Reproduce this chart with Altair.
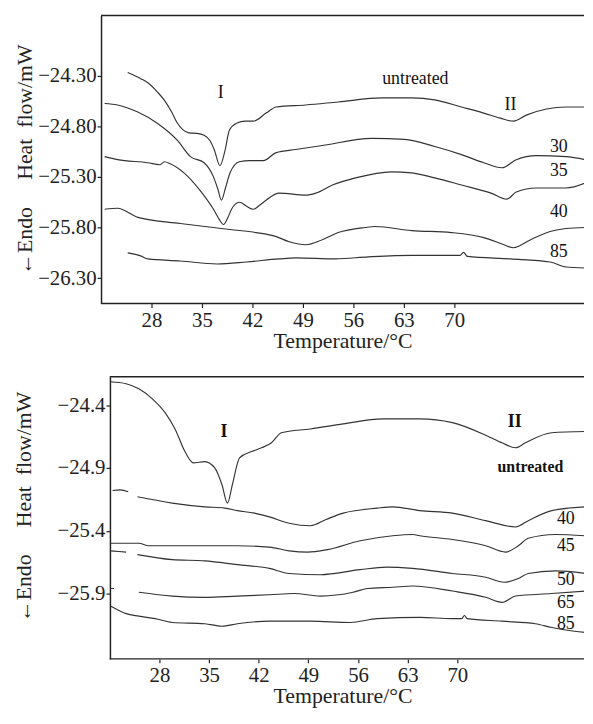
import altair as alt
import pandas as pd

FONT = "Liberation Serif"
INK = "#222222"

# ---------------- top panel data ----------------
TOP_UNT_T = [24.7, 26.5, 27.5, 28.8, 29.8, 30.8, 31.6, 32.3, 33.2, 34.3, 35.3, 36.1, 36.7, 37.5, 38.2, 38.8,
             39.8, 41.0, 42.1, 43.9, 45.3, 49.4, 53.9, 60.0, 64.1, 67.3, 71.0, 74.1, 76.4, 78.2, 80.0, 82.8,
             85.5, 88.2]
TOP_UNT_V = [-24.27, -24.33, -24.37, -24.46, -24.545, -24.66, -24.77, -24.83, -24.865, -24.87, -24.89, -24.94,
             -25.03, -25.19, -25.04, -24.84, -24.77, -24.75, -24.75, -24.67, -24.61, -24.59, -24.56, -24.52,
             -24.52, -24.54, -24.61, -24.67, -24.72, -24.75, -24.69, -24.63, -24.61, -24.61]

TOP_30_T = [21.5, 23.3, 26.1, 28.8, 31.6, 33.4, 35.3, 36.6, 37.2, 37.7, 38.3, 38.9, 40.2, 41.6, 43.5, 45.3,
            48.0, 51.7, 58.6, 63.1, 67.3, 71.0, 74.1, 76.6, 78.6, 81.4, 85.5, 88.2]
TOP_30_V = [-24.575, -24.59, -24.66, -24.77, -24.94, -25.10, -25.16, -25.30, -25.42, -25.53, -25.40, -25.26,
            -25.15, -25.14, -25.14, -25.06, -25.03, -24.99, -24.92, -24.93, -25.00, -25.08, -25.16, -25.21,
            -25.13, -25.09, -25.10, -25.13]

TOP_35_T = [21.5, 23.3, 27.5, 29.2, 29.8, 30.6, 32.5, 34.7, 36.6, 37.4, 38.0, 38.6, 39.1, 40.2, 41.2, 42.1,
            43.0, 43.9, 45.7, 49.4, 50.8, 53.1, 56.3, 61.3, 64.1, 67.3, 71.0, 75.1, 77.3, 78.6, 81.4, 85.5, 88.2]
TOP_35_V = [-25.10, -25.13, -25.16, -25.18, -25.15, -25.17, -25.26, -25.43, -25.62, -25.72, -25.77, -25.70,
            -25.62, -25.55, -25.59, -25.62, -25.58, -25.53, -25.46, -25.48, -25.46, -25.38, -25.31, -25.25,
            -25.26, -25.31, -25.38, -25.46, -25.52, -25.45, -25.41, -25.41, -25.36]

TOP_40_T = [21.5, 23.3, 26.1, 32.0, 36.6, 38.9, 42.5, 45.3, 47.1, 49.4, 51.7, 53.9, 57.6, 59.0, 64.1, 69.6,
            74.1, 76.9, 78.2, 80.6, 83.3, 85.5, 88.2]
TOP_40_V = [-25.62, -25.61, -25.70, -25.76, -25.80, -25.82, -25.85, -25.89, -25.94, -25.97, -25.92, -25.85,
            -25.80, -25.79, -25.83, -25.85, -25.90, -25.97, -26.00, -25.92, -25.84, -25.81, -25.80]

TOP_85_T = [24.7, 26.5, 27.5, 32.0, 37.1, 41.2, 45.7, 48.0, 53.5, 58.1, 64.1, 70.8, 71.3, 71.8, 77.8, 83.3,
            85.5, 88.2]
TOP_85_V = [-26.05, -26.08, -26.11, -26.13, -26.16, -26.14, -26.11, -26.10, -26.11, -26.09, -26.075, -26.075,
            -26.045, -26.085, -26.11, -26.14, -26.19, -26.20]

TOP_LABELS = ["I", "untreated", "II", "30", "35", "40", "85"]
TOP_LABEL_T = [37.6, 64.6, 77.8, 84.5, 84.5, 84.5, 84.5]
TOP_LABEL_V = [-24.518, -24.381, -24.636, -25.056, -25.29, -25.70, -26.09]

TOP_Y_TICKS = [-24.30, -24.80, -25.30, -25.80, -26.30]
TOP_X_DOMAIN = [21.0, 88.0]
TOP_Y_DOMAIN = [-26.551, -23.707]

# ---------------- bottom panel data ----------------
BOT_UNT_T = [21.1, 23.3, 25.1, 27.0, 28.8, 30.2, 31.6, 32.8, 34.4, 35.8, 36.8, 37.6, 38.3, 39.3, 41.0, 42.4,
             43.8, 45.2, 49.3, 53.9, 59.5, 64.7, 69.3, 74.0, 76.3, 78.2, 79.6, 83.3, 88.1]
BOT_UNT_V = [-24.214, -24.23, -24.27, -24.35, -24.46, -24.59, -24.77, -24.86, -24.85, -24.90, -25.03, -25.18,
             -25.03, -24.82, -24.77, -24.74, -24.70, -24.62, -24.59, -24.55, -24.51, -24.51, -24.54, -24.64,
             -24.70, -24.74, -24.70, -24.62, -24.61]

BOT_40A_T = [21.4, 22.5, 23.6]
BOT_40A_V = [-25.08, -25.075, -25.09]
BOT_40_T = [24.9, 29.8, 34.4, 37.2, 39.0, 41.4, 43.5, 46.3, 49.3, 51.5, 53.9, 58.7, 60.9, 64.7,
            69.3, 74.0, 78.2, 80.0, 83.3, 88.1]
BOT_40_V = [-25.13, -25.18, -25.21, -25.22, -25.24, -25.26, -25.29, -25.34, -25.36, -25.31,
            -25.26, -25.22, -25.21, -25.24, -25.26, -25.32, -25.37, -25.32, -25.24, -25.21]

BOT_45_T = [21.1, 25.1, 26.5, 32.0, 39.0, 43.5, 46.3, 48.9, 51.7, 56.3, 60.9, 63.7, 64.7, 69.3, 74.0, 76.8,
            78.6, 80.0, 83.8, 88.1]
BOT_45_V = [-25.50, -25.50, -25.52, -25.52, -25.52, -25.53, -25.56, -25.57, -25.55, -25.48, -25.44, -25.43,
            -25.44, -25.47, -25.52, -25.57, -25.52, -25.46, -25.43, -25.44]

BOT_50A_T = [21.1, 22.2, 23.3]
BOT_50A_V = [-25.56, -25.565, -25.57]
BOT_50_T = [24.9, 29.8, 34.4, 39.0, 43.5, 46.3, 50.7, 56.3, 60.0, 63.7, 69.3, 74.0, 76.6, 78.6, 80.0,
            83.8, 88.1]
BOT_50_V = [-25.59, -25.63, -25.64, -25.67, -25.70, -25.74, -25.75, -25.71, -25.69, -25.70, -25.74,
            -25.77, -25.81, -25.78, -25.74, -25.72, -25.74]

BOT_65A_T = [21.1, 21.6]
BOT_65A_V = [-25.86, -25.86]
BOT_65_T = [25.1, 29.8, 34.4, 39.0, 43.5, 47.0, 50.7, 55.3, 57.3, 60.9, 63.7, 69.3, 74.0, 76.3, 78.2, 83.3, 88.1]
BOT_65_V = [-25.89, -25.92, -25.93, -25.92, -25.91, -25.90, -25.92, -25.89, -25.86, -25.85, -25.84, -25.88,
            -25.93, -25.97, -25.92, -25.90, -25.88]

BOT_85_T = [21.1, 23.3, 25.1, 27.4, 29.8, 34.4, 36.8, 39.0, 43.5, 49.3, 54.9, 58.7, 64.7, 69.3, 70.6, 71.0,
            71.4, 76.3, 81.0, 83.3, 86.5, 88.1]
BOT_85_V = [-26.00, -26.06, -26.08, -26.10, -26.13, -26.14, -26.16, -26.14, -26.12, -26.12, -26.13, -26.10,
            -26.09, -26.10, -26.10, -26.075, -26.10, -26.12, -26.14, -26.17, -26.20, -26.21]

BOT_LABELS_BOLD = ["I", "II"]
BOT_LABEL_BOLD_T = [37.1, 78.1]
BOT_LABEL_BOLD_V = [-24.656, -24.571]
BOT_LABELS_BOLD_SMALL = ["untreated"]
BOT_LABEL_BOLD_SMALL_T = [80.3]
BOT_LABEL_BOLD_SMALL_V = [-24.936]
BOT_LABELS = ["40", "45", "50", "65", "85"]
BOT_LABEL_T = [85.3, 85.3, 85.3, 85.3, 85.3]
BOT_LABEL_V = [-25.348, -25.558, -25.83, -26.016, -26.18]

BOT_Y_TICKS = [-24.4, -24.9, -25.4, -25.9]
BOT_X_DOMAIN = [19.77, 87.86]   # plot area starts a little left of the 21 °C frame line
BOT_Y_DOMAIN = [-26.42, -24.175]

X_TICKS = [28, 35, 42, 49, 56, 63, 70]
FRAME_LEFT_T = 21.0

Y_TITLE = "\u2190Endo\u00a0\u00a0\u00a0\u00a0\u00a0Heat\u00a0\u00a0flow/mW"
X_TITLE = "Temperature/\u00b0C"


def curves_df(series):
    rows = []
    for name, ts, vs in series:
        for i, (t, v) in enumerate(zip(ts, vs)):
            rows.append({"series": name, "i": i, "T": t, "v": v})
    return pd.DataFrame(rows)


def panel(series, label_sets, xdom, ydom, yticks, yfmt, w, h, yoffset, title_x, title_y):
    xscale = alt.Scale(domain=xdom, nice=False, zero=False)
    yscale = alt.Scale(domain=ydom, nice=False, zero=False)
    xaxis = alt.Axis(values=X_TICKS, title=X_TITLE, tickSize=4, labelPadding=2, titlePadding=0,
                     domain=False)
    yaxis = alt.Axis(values=yticks, format=yfmt, title=Y_TITLE, tickSize=4, labelPadding=1,
                     offset=yoffset, titleAngle=-90, titleX=title_x, titleY=title_y,
                     titleBaseline="alphabetic", titleAlign="center")
    lines = alt.Chart(curves_df(series)).mark_line(
        interpolate="monotone", color="#333333", strokeWidth=1.15, clip=True
    ).encode(
        x=alt.X("T:Q", scale=xscale, axis=xaxis),
        y=alt.Y("v:Q", scale=yscale, axis=yaxis),
        detail="series:N",
        order="i:Q",
    )
    frame_df = pd.DataFrame({"T": [FRAME_LEFT_T, FRAME_LEFT_T], "T2": [xdom[1], xdom[1]],
                             "v": [ydom[0], ydom[1]]})
    frame = alt.Chart(frame_df).mark_rule(color=INK, strokeWidth=1.5).encode(
        x=alt.X("T:Q", scale=xscale, axis=xaxis),
        x2="T2:Q",
        y=alt.Y("v:Q", scale=yscale, axis=yaxis),
    )
    layers = [lines, frame]
    for texts, ts, vs, weight, size in label_sets:
        layers.append(
            alt.Chart(pd.DataFrame({"label": texts, "T": ts, "v": vs})).mark_text(
                font=FONT, fontSize=size, fontWeight=weight, color="#111111",
                align="center", baseline="alphabetic"
            ).encode(
                x=alt.X("T:Q", scale=xscale, axis=xaxis),
                y=alt.Y("v:Q", scale=yscale, axis=yaxis),
                text="label:N",
            )
        )
    return alt.layer(*layers).properties(width=w, height=h)


top = panel(
    [("untreated", TOP_UNT_T, TOP_UNT_V), ("30", TOP_30_T, TOP_30_V), ("35", TOP_35_T, TOP_35_V),
     ("40", TOP_40_T, TOP_40_V), ("85", TOP_85_T, TOP_85_V)],
    [(TOP_LABELS, TOP_LABEL_T, TOP_LABEL_V, "normal", 18)],
    TOP_X_DOMAIN, TOP_Y_DOMAIN, TOP_Y_TICKS, ".2f", 488, 291, 0, -70, 145,
)

bottom = panel(
    [("untreated", BOT_UNT_T, BOT_UNT_V), ("40a", BOT_40A_T, BOT_40A_V), ("40", BOT_40_T, BOT_40_V),
     ("45", BOT_45_T, BOT_45_V), ("50a", BOT_50A_T, BOT_50A_V), ("50", BOT_50_T, BOT_50_V),
     ("65a", BOT_65A_T, BOT_65A_V), ("65", BOT_65_T, BOT_65_V), ("85", BOT_85_T, BOT_85_V)],
    [(BOT_LABELS_BOLD, BOT_LABEL_BOLD_T, BOT_LABEL_BOLD_V, "bold", 18),
     (BOT_LABELS_BOLD_SMALL, BOT_LABEL_BOLD_SMALL_T, BOT_LABEL_BOLD_SMALL_V, "bold", 16),
     (BOT_LABELS, BOT_LABEL_T, BOT_LABEL_V, "normal", 18)],
    BOT_X_DOMAIN, BOT_Y_DOMAIN, BOT_Y_TICKS, ".1f", 488, 285, -9, -80, 131,
)

chart = alt.vconcat(top, bottom, spacing=25).properties(
    padding={"left": 4, "top": 3, "right": 0, "bottom": 0}
).configure_view(strokeWidth=0).configure_axis(
    grid=False, domainColor=INK, domainWidth=1.5, tickColor=INK, tickWidth=1.2,
    labelColor=INK, titleColor=INK, labelFont=FONT, titleFont=FONT,
    labelFontSize=21, titleFontSize=22, titleFontWeight="normal",
)

chart.save("out.html", embed_options={"renderer": "svg", "actions": False})
